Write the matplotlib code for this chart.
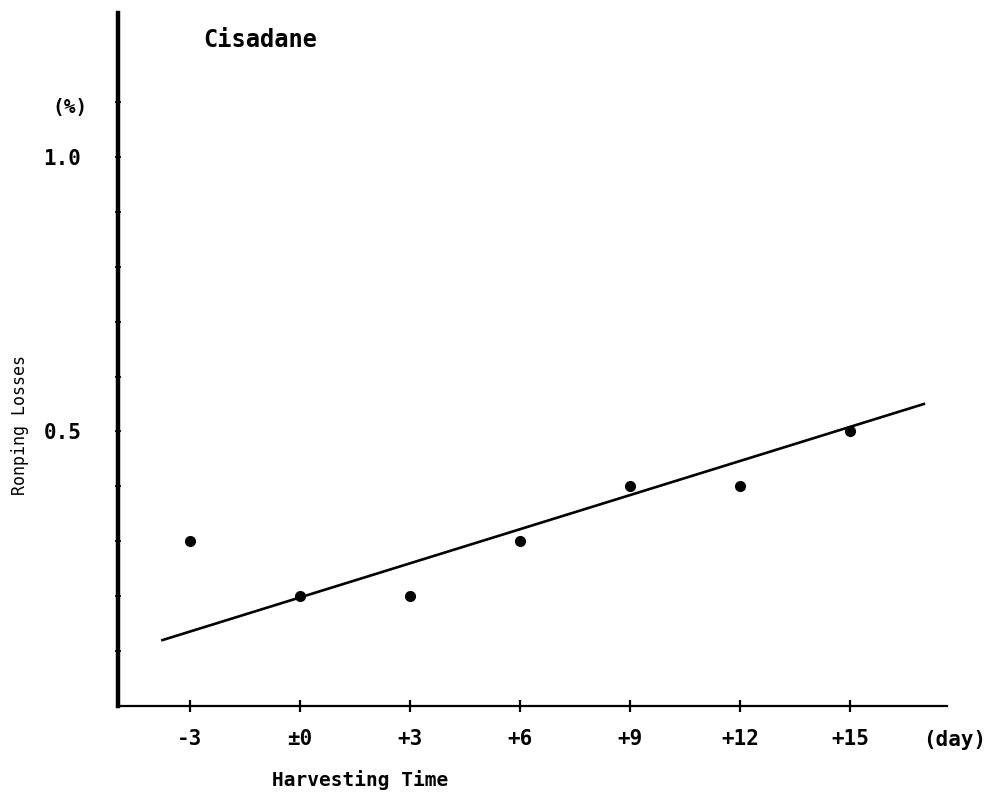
import matplotlib.pyplot as plt

# harvesting time (days) and losses (%)
days = [-3, 0, 3, 6, 9, 12, 15]
losses = [0.30, 0.20, 0.20, 0.30, 0.40, 0.40, 0.50]
xtick_labels = ['-3', '\u00b10', '+3', '+6', '+9', '+12', '+15']
# fitted line, as drawn in the original
line_days = [-3.75, 17.0]
line_losses = [0.12, 0.55]

plt.rcParams['font.family'] = ['DejaVu Sans Mono']
plt.rcParams['font.weight'] = 'bold'

fig = plt.figure(figsize=(9.94, 7.99), dpi=100)
ax = fig.add_axes([118/994, 93/799, (947-118)/994, (706-13)/799])

ax.plot(line_days, line_losses, color='black', lw=1.9)
ax.plot(days, losses, 'o', color='black', ms=7)

ax.set_xlim(-4.96, 17.63)
ax.set_ylim(0, 1.262)

ax.spines['top'].set_visible(False)
ax.spines['right'].set_visible(False)
ax.spines['left'].set_linewidth(3.2)
ax.spines['bottom'].set_linewidth(1.6)

ax.set_xticks(days)
ax.set_xticklabels(xtick_labels, fontsize=15)
ax.tick_params(axis='x', direction='inout', length=9, width=1.6, pad=12)

ax.set_yticks([0.1, 0.2, 0.3, 0.4, 0.5, 0.6, 0.7, 0.8, 0.9, 1.0, 1.1])
ax.set_yticklabels(['', '', '', '', '0.5', '', '', '', '', '1.0', ''], fontsize=15)
ax.tick_params(axis='y', direction='inout', length=5, width=1.2, pad=24)

fig.text(70/994, 1 - 108/799, '(%)', fontsize=14, ha='center', va='center')
fig.text(955/994, 1 - 740/799, '(day)', fontsize=15, ha='center', va='center')
fig.text(260/994, 1 - 40/799, 'Cisadane', fontsize=17, ha='center', va='center')
fig.text(360/994, 1 - 780/799, 'Harvesting Time', fontsize=14, ha='center', va='center')
fig.text(20/994, 1 - 425/799, 'Ronping Losses', fontsize=12, rotation=90,
         ha='center', va='center', fontweight='normal')

fig.savefig('out.png', dpi=100)
